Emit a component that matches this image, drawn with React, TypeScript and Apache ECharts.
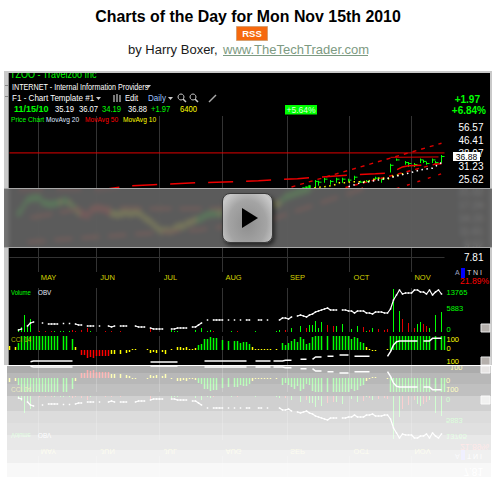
import React, { useEffect, useRef } from "react";
import * as echarts from "echarts";

const _ = null;
const FONT = "Liberation Sans";

const monthNames = ["MAY", "JUN", "JUL", "AUG", "SEP", "OCT", "NOV"];
const monthStarts = [9.5, 29, 50, 71, 92.67, 113.33, 134];
const monthLabelDays = [13, 32.67, 53.67, 74.67, 96, 117.33, 137.67];
const priceTicks = [56.57, 46.41, 38.07, 31.23, 25.62, 21.02, 17.24, 14.15, 11.61, 9.52, 7.81];
const lastPrice = "36.88";

const volumeUp = [[3,3],[4,5],[5,17],[6,6],[7,13],[15,1],[17,1],[18,1],[20,1],[27,1],[54,2],[55,1],[56,1],[62,2],[64,4],[66,1],[67,2],[74,1],[82,1],[89,1],[90,2],[94,4],[97,6],[100,7],[101,7],[102,11],[103,4],[104,10],[109,6],[111,8],[114,3],[116,6],[119,1],[121,4],[128,43],[130,21],[136,8],[137,10],[140,4],[142,17],[144,20]];
const volumeDown = [[10,1],[12,1],[14,1],[21,2],[22,1],[24,2],[26,4],[32,1],[34,1],[37,1],[47,4],[68,1],[76,1],[92,2],[99,4],[106,7],[108,6],[118,5],[120,2],[123,3],[125,2],[126,3],[131,13],[133,9],[135,4],[138,8],[139,6]];
const obv = [_,_,_,2,3,_,6,9,10,_,_,9,_,8,8,8,8,_,8.5,_,8.5,_,8,7,7,_,6,6,6,_,6,_,_,6,5,6,_,6,6,6,_,_,6,5,5,5,_,4,3,3,3,3,_,_,3,3,4,4,4,4,_,5,5,7,9,_,12,_,12,12,12,12,_,12,_,12,_,12,_,12,12,_,_,12,12,_,12,_,_,_,12,14,14,13,15,_,16,17,16,15,17,18,20,21,22,23,24,22,22,22,_,22,22,21,21,19,21,21,21,19,19,18,20,20,20,19,19,23,32,37,42,38,39,39,39,42,42,40,40,38,42,37,40,42,38,_];
const osc = [36,_,27,63,126,126,126,126,126,126,126,126,126,126,126,126,126,_,126,126,_,99,27,_,-45,-45,-72,-63,-72,-54,-54,-54,-54,-54,-36,-36,_,-36,_,-27,-18,9,9,_,_,_,9,-27,-18,-27,_,-18,-36,_,9,_,27,27,18,27,9,9,18,45,54,99,99,117,108,108,_,90,_,81,_,81,81,63,72,72,54,27,9,9,9,9,9,9,_,9,_,63,45,63,81,99,72,117,99,54,63,117,126,126,126,_,126,_,126,126,126,126,126,126,99,117,108,72,63,27,9,-9,-9,_,_,_,9,126,126,126,126,126,126,126,126,126,126,126,126,126,126,_,126,_,126,126,_];
const accumulation = [[7,-105],[8,-99],[21,-99],[_,_],[47,-108],[56,-108],[_,_],[65,-99],[79,-99],[_,_],[82,-99],[87,-99],[_,_],[88,-99],[91,-99],[92,-93],[94,-93],[_,_],[97,-84],[99,-84],[_,_],[101,-84],[102,-63],[104,-63],[_,_],[106,-57],[108,-57],[_,_],[110,-45],[113,-45],[_,_],[115,-57],[120,-57],[_,_],[126,-57],[127,-15],[128,45],[129,75],[130,81],[136,81],[_,_],[138,81],[140,81],[141,105],[144,105]];

const pricePast = [15.3,16.2,17.5,18.8,19.1,19.4,19.4,19.4,18.2,17.9,17.7,17.5,17.9,17.9,18.2,18.5,18.5,17.9,17.2,16.4,15.6,15.0,15.3,14.7,15.6,16.4,16.6,16.6,16.4,16.2,15.6,15.3,15.2,15.0,15.2,15.3,15.6,15.2,15.3,15.6,15.3,15.0,14.3,13.9,13.5,12.9,12.4,11.9,11.7,11.9,11.7,11.7,12.2,12.5,12.7,12.5,13.1,13.3,13.5,13.9,13.9,14.3,14.7,15.0,15.2,15.2,15.3,15.3,15.3,15.6,15.9,15.9,16.2,16.2,16.4,16.4,16.6,16.6,17.0,17.0,17.2,17.2,17.5,17.5,17.7,17.7,17.5,17.9,18.8,19.7,20.0,20.3,20.65,21.0,21.3,21.6,21.9,22.3];
const priceRecent = [[102,22.7,25.5],[103,23.3,25.2],[105,24.4,26.4],[107,23.7,25.5],[109,24.4,26.4],[111,24.4,26.4],[113,24.8,26.0],[115,25.5,27.2],[117,24.4,25.2],[119,24.4,25.5],[122,25.5,26.8],[124,24.4,26.4],[127,28.6,32.6],[129,34.2,35.4],[132,32.1,34.0],[133,31.1,33.5],[135,31.1,33.0],[137,33.0,35.4],[138,33.0,34.6],[139,32.1,33.5],[141,33.0,35.4],[142,32.6,34.0],[144,33.0,37.3]];

const ma10 = [[92,20.0],[96,20.6],[99,21.6],[102,22.7],[105,23],[108,23.5],[110,24.4],[112,24.4],[114,24.8],[116,24.8],[118,24.8],[120,25.2],[122,26],[124,26.4],[126,25.8],[128,27.2],[130,27.6],[132,28.4]];
const ma20 = [[113,23],[117,24.4],[120,24.8],[123,25.5],[127,26.4],[134,28.6],[137,29.7],[139,30.1],[141,30.5],[144,33.2]];
const ma50 = [[3,21.6],[17,21.9],[30,21.9],[40,23.3],[48,23.7],[62,24.4],[75,24.8],[83,25.2],[96,26],[110,27.2],[122,28],[127,28.4],[131,31.1],[133,31.6],[138,32],[144,32.6]];
const midAverage = [[7,14.3],[25,16.6],[41,16.6],[49,16.4],[70,16.4],[80,17.5]];
const lowAverage = [[6,9.9],[21,10.4],[30,10.7],[39,11.06],[50,11.4],[63,11.9],[70,12.4],[89,14.3],[97,16.2],[119,22.7]];
const resistanceLevel = [[0,38.5],[145,38.5]];
const recentLevel = [[127,36.0],[143,36.2]];
const floorLevel = [[0,7.81],[145,7.81]];
const channelUpper = [[94,22.9],[144,44.6]];
const channelMiddle = [[112,22.7],[144,33.2]];
const channelLower = [[129,22.3],[144,28]];

const volumeLabels = ["13765", "5883", "0"];
const volumeLabelAt = [40, 24, 3];
const oscLabels = ["100", "0", "100"];
const oscLabelAt = [99, 18, -99];

const GREEN = "#00ff00", RED = "#ff0000", YELLOW = "#ffff00", MONTH = "#d4d400";
const MIRROR = 728;
const oscColor = (v: number) => (v >= 45 ? GREEN : v <= -45 ? RED : YELLOW);

const text = (s: string, x: number, y: number, color: string, size = 9, o: any = {}) => ({
  type: "text", x, y, z: o.z ?? 20, scaleX: o.sx ?? 1, scaleY: o.flip ? -1 : 1,
  style: { text: s, x: 0, y: 0, fill: color, fontFamily: FONT, fontSize: size, fontWeight: o.w ?? "normal",
    align: o.a ?? "left", verticalAlign: "middle" },
});
const rect = (x: number, y: number, w: number, h: number, fill: any, z = -5, extra: any = {}) => ({
  type: "rect", z, shape: { x, y, width: w, height: h, ...extra.shape }, style: { fill, ...extra.style },
});
const seg = (x1: number, y1: number, x2: number, y2: number, stroke: string, w = 1, z = 20) => ({
  type: "line", z, shape: { x1, y1, x2, y2 }, style: { stroke, lineWidth: w },
});

function bothSides(s: string, x: number, y: number, color: string, size: number, o: any = {}) {
  return [text(s, x, y, color, size, o), text(s, x, MIRROR - y, color, size, { ...o, flip: true })];
}

const bandTops = [366, 373, 384, 396, 411, 423, 435, 450, 463];
const bandEnds = [373, 384, 396, 411, 423, 435, 450, 463, 477];
const bandGrays = [172, 184, 192, 208, 220, 224, 232, 240, 248];

function buildGraphics() {
  const g: any[] = [
    rect(4, 71, 488, 294, "#c9c9c9", -12),
    rect(8, 73, 1, 292, "#8a8a8a", -11),
    rect(9, 73, 481, 292, "#000", -10),
    rect(7, 366, 484, 111, "#000", -10),
    text("TZOO - Travelzoo Inc", 10, 74.5, GREEN, 11, { z: 15, sx: 0.82 }),
    rect(0, 0, 501, 71, "#fff", 16),
    rect(4, 71, 488, 2, "#c9c9c9", 17),
    text("Charts of the Day for Mon Nov 15th 2010", 248, 16, "#000", 15.9, { w: "bold", a: "center" }),
    rect(236.5, 26.5, 31, 14, "#f6690e", 18, { style: { stroke: "#d9a070", lineWidth: 1 } }),
    text("RSS", 252, 33.5, "#fff", 9.5, { w: "bold", a: "center" }),
    text("by Harry Boxer,", 128, 49, "#1a1a1a", 13),
    text("www.TheTechTrader.com", 223, 49, "#7d9a82", 13),
    seg(223, 55.5, 368, 55.5, "#7d9a82"),
    seg(5, 85.5, 9, 85.5, "#888"),
    seg(5, 96.5, 9, 96.5, "#888"),
    text("INTERNET - Internal Information Providers", 12, 87, "#fff", 9, { sx: 0.8 }),
    { type: "polygon", z: 20, shape: { points: [[146, 85], [151, 85], [148.5, 88]] }, style: { fill: "#ccc" } },
    text("F1 - Chart Template #1", 12, 98, "#fff", 9.5, { sx: 0.85 }),
    { type: "polygon", z: 20, shape: { points: [[96, 97], [101, 97], [98.5, 100]] }, style: { fill: "#ccc" } },
    rect(113, 95, 2, 7, "#777", 20), rect(116, 94, 2, 8, "#777", 20), rect(119, 95, 2, 7, "#777", 20),
    text("Edit", 125, 98, "#fff", 9.5, { sx: 0.8 }),
    text("Daily", 148, 98, "#9ec4ff", 9.5, { sx: 0.85 }),
    { type: "polygon", z: 20, shape: { points: [[168, 97], [173, 97], [170.5, 100]] }, style: { fill: "#ccc" } },
    { type: "circle", z: 20, shape: { cx: 181, cy: 97, r: 3 }, style: { fill: "none", stroke: "#ccc", lineWidth: 1 } },
    seg(183, 99, 186, 102, "#ccc", 1.5),
    { type: "circle", z: 20, shape: { cx: 193, cy: 97, r: 3 }, style: { fill: "none", stroke: "#ccc", lineWidth: 1 } },
    seg(195, 99, 198, 102, "#ccc", 1.5),
    seg(209, 102, 216, 95, "#aaa", 1.5),
    text("11/15/10", 14, 109, GREEN, 9, { w: "bold" }),
    text("35.19", 55, 109, "#fff", 8.5, { sx: 0.9 }),
    text("36.07", 79, 109, "#fff", 8.5, { sx: 0.9 }),
    text("34.19", 102, 109, GREEN, 8.5, { sx: 0.9 }),
    text("36.88", 128, 109, "#fff", 8.5, { sx: 0.9 }),
    text("+1.97", 151, 109, GREEN, 8.5, { sx: 0.9 }),
    text("6400", 180, 109, YELLOW, 8.5, { sx: 0.9 }),
    rect(285, 105, 32, 9.5, GREEN, 18),
    text("+5.64%", 301, 110, "#ddffdd", 8.5, { a: "center" }),
    text("+1.97", 480, 99, GREEN, 10, { a: "right", w: "bold" }),
    text("+6.84%", 486, 110, GREEN, 10, { a: "right", w: "bold" }),
    text("Price Chart", 11, 119, GREEN, 7, { sx: 0.95 }),
    text("MovAvg 20", 46, 119, "#dfe8ff", 7, { sx: 0.95 }),
    text("MovAvg 50", 85, 119, RED, 7, { sx: 0.95 }),
    text("MovAvg 10", 123, 119, YELLOW, 7, { sx: 0.95 }),
    rect(453, 152, 27, 9, "#fff", 18),
    text(lastPrice, 466.5, 156.5, "#000", 8.5, { a: "center" }),
    rect(481, 324, 9, 8, "#b5b0ac", 18, { style: { stroke: "#e8e8e8", lineWidth: 1 } }),
    rect(481, 357, 9, 8, "#b5b0ac", 18, { style: { stroke: "#e8e8e8", lineWidth: 1 } }),
    rect(481, 396, 9, 8, "#b5b0ac", 18, { style: { stroke: "#e8e8e8", lineWidth: 1 } }),
    rect(481, 366, 9, 7, "#b5b0ac", 18, { style: { stroke: "#e8e8e8", lineWidth: 1 } }),
    rect(490, 73, 2, 292, "#c9c9c9", 17),
    rect(461, 268, 4, 10, "#0000ff", 18),
    rect(461, 450, 4, 10, "#0000ff", 18),
    ...bothSides("A", 455, 272, "#9aa0c0", 7),
    ...bothSides("T N I", 467, 272, "#dddddd", 7),
    ...bothSides("21.89%", 489, 281, RED, 9, { a: "right", sx: 0.95 }),
    ...bothSides("Volume", 11, 292, GREEN, 7, { sx: 0.85 }),
    ...bothSides("OBV", 38, 292, "#e8eeff", 7, { sx: 0.9 }),
    ...bothSides("CCI 14", 11, 339, "#b0b000", 6.5),
    text(volumeLabels[0], 446, MIRROR - 292, GREEN, 7.5, { flip: true }),
    text(volumeLabels[1], 446, MIRROR - 308, GREEN, 7.5, { flip: true }),
    text(oscLabels[1], 446, MIRROR - 348, YELLOW, 7.5, { flip: true }),
    text(oscLabels[2], 450, MIRROR - 361, YELLOW, 7.5, { flip: true }),
    text(oscLabels[0], 446, MIRROR - 339, YELLOW, 7.5, { flip: true }),
    text("0", 446, MIRROR - 329, GREEN, 7.5, { flip: true }),
    text("7.81", 483, MIRROR - 257, "#fff", 10, { a: "right", flip: true }),
    seg(7, 365.5, 491, 365.5, "#ffffff", 1, 90),
  ];
  monthNames.forEach((m, i) => {
    g.push(text(m, 9.5 + monthLabelDays[i] * 3, MIRROR - 277, MONTH, 7.5, { a: "center", flip: true }));
  });
  bandTops.forEach((t, i) => {
    g.push(rect(0, t, 501, bandEnds[i] - t, `rgba(255,255,255,${(bandGrays[i] / 255).toFixed(3)})`, 80));
  });
  return g;
}

const xAxisOf = (gridIndex: number, labels = false) => ({
  type: "value", gridIndex, min: 0, max: 145,
  axisLine: { show: false },
  axisTick: { show: false, customValues: monthStarts },
  splitLine: { show: true, lineStyle: { color: "#333333", width: 1 } },
  axisLabel: labels
    ? { show: true, customValues: monthLabelDays, color: MONTH, fontSize: 7.5, fontFamily: FONT, margin: 1,
        formatter: (v: number) => monthNames[monthLabelDays.indexOf(v)] ?? "" }
    : { show: false },
});

const bars = (xi: number, data: any[], width: number) => ({
  type: "bar", xAxisIndex: xi, yAxisIndex: xi, barWidth: width, data, z: 3,
});
const whiteLine = (xi: number, data: any[], sym: boolean) => ({
  type: "line", xAxisIndex: xi, yAxisIndex: xi, data, z: 5, connectNulls: false,
  showSymbol: sym, showAllSymbol: sym, symbol: "rect", symbolSize: 1.5,
  itemStyle: { color: "#fff" }, lineStyle: { color: "#fff", width: sym ? 1.2 : 1.5 },
});
const priceLine = (data: any[], color: string, width: number, type: any) => ({
  type: "line", xAxisIndex: 0, yAxisIndex: 0, data, showSymbol: false, symbol: "none", z: 4,
  lineStyle: { color, width, type }, silent: true,
});

function buildOption() {
  const volData = [
    ...volumeUp.map((d) => ({ value: d, itemStyle: { color: GREEN } })),
    ...volumeDown.map((d) => ({ value: d, itemStyle: { color: "#e00000" } })),
  ];
  const oscData = osc.map((v, i) => ({ value: [i, v], itemStyle: { color: v == null ? GREEN : oscColor(v) } }));
  const obvData = obv.map((v, i) => [i, v]);

  const past = pricePast.map((p, i) => [3 + i, p * 0.945, p * 1.055, oscColor(osc[3 + i] ?? 0), 2.4]);
  const recent = priceRecent.map((d) => [d[0], d[1], d[2], GREEN, 1]);

  return {
    animation: false,
    backgroundColor: "#fff",
    textStyle: { fontFamily: FONT },
    graphic: { elements: buildGraphics() },
    grid: [
      { left: 9.5, width: 435, top: 116, height: 156 },
      { left: 9.5, width: 435, top: 288, height: 44 },
      { left: 9.5, width: 435, top: 336, height: 28 },
      { left: 9.5, width: 435, top: 396, height: 44 },
      { left: 9.5, width: 435, top: 364, height: 28 },
      { left: 9.5, width: 435, top: 456, height: 21 },
    ],
    xAxis: [xAxisOf(0, true), xAxisOf(1), xAxisOf(2), xAxisOf(3), xAxisOf(4), xAxisOf(5)],
    yAxis: [
      { type: "log", gridIndex: 0, position: "right", min: 6.26, max: 67.6, logBase: 10,
        axisLine: { show: false }, splitLine: { show: false },
        axisTick: { show: false, customValues: priceTicks },
        axisLabel: { customValues: priceTicks, color: "#fff", fontSize: 10, fontFamily: FONT, margin: 39, align: "right",
          formatter: (v: number) => v.toFixed(2) } },
      { type: "value", gridIndex: 1, position: "right", min: 0, max: 44,
        axisLine: { show: false }, splitLine: { show: false }, axisTick: { show: false },
        axisLabel: { customValues: volumeLabelAt, color: GREEN, fontSize: 7.5, fontFamily: FONT, margin: 2, align: "left",
          formatter: (v: number) => volumeLabels[volumeLabelAt.indexOf(v)] ?? "" } },
      { type: "value", gridIndex: 2, position: "right", min: -126, max: 126,
        axisLine: { show: false }, splitLine: { show: false }, axisTick: { show: false },
        axisLabel: { customValues: oscLabelAt, color: YELLOW, fontSize: 7.5, fontFamily: FONT, margin: 2, align: "left",
          formatter: (v: number) => oscLabels[oscLabelAt.indexOf(v)] ?? "" } },
      { type: "value", gridIndex: 3, inverse: true, min: 0, max: 44, show: false },
      { type: "value", gridIndex: 4, inverse: true, min: -126, max: 126, show: false },
      { type: "value", gridIndex: 5, min: 0, max: 1, show: false },
    ],
    series: [
      {
        type: "custom", xAxisIndex: 0, yAxisIndex: 0, z: 3, silent: true, clip: true,
        data: [...past, ...recent],
        encode: { x: 0, y: [1, 2] },
        renderItem: (params: any, api: any) => {
          const d = api.value(0);
          const lo = api.coord([d, api.value(1)]);
          const hi = api.coord([d, api.value(2)]);
          const item = [...past, ...recent][params.dataIndex];
          const w = item[4] as number;
          const children: any[] = [{
            type: "rect", shape: { x: lo[0] - w / 2, y: hi[1], width: w, height: lo[1] - hi[1] },
            style: { fill: item[3] },
          }];
          if (w === 1) {
            children.push({ type: "rect", shape: { x: lo[0], y: hi[1] + 1, width: 3, height: 1 }, style: { fill: item[3] } });
          }
          return { type: "group", children };
        },
      },
      priceLine(floorLevel, "#333333", 1, "solid"),
      priceLine(resistanceLevel, "#e00000", 1, "solid"),
      priceLine(recentLevel, "#e00000", 1, "solid"),
      priceLine(channelUpper, "#e00000", 1.4, [4, 5]),
      priceLine(channelMiddle, "#e00000", 1.4, [4, 5]),
      priceLine(channelLower, "#e00000", 1.4, [3, 8]),
      priceLine(ma50, "#ee0000", 1.5, [25, 13]),
      priceLine(midAverage, "#d02000", 3, [22, 8]),
      priceLine(lowAverage, "#d02000", 3, [18, 9]),
      priceLine(ma10, YELLOW, 1.5, [1.5, 3.5]),
      priceLine(ma20, "#ffffff", 1.5, [1.5, 3.5]),
      bars(1, volData, 1),
      whiteLine(1, obvData, true),
      bars(2, oscData, 1.5),
      whiteLine(2, accumulation, false),
      bars(3, volData, 1),
      whiteLine(3, obvData, true),
      bars(4, oscData, 1.5),
      whiteLine(4, accumulation, false),
    ],
  };
}

export default function App() {
  const ref = useRef<HTMLDivElement>(null);
  useEffect(() => {
    const chart = echarts.init(ref.current!, null, { renderer: "svg" });
    chart.setOption(buildOption() as any);
    return () => chart.dispose();
  }, []);
  return (
    <div style={{ position: "fixed", left: 0, top: 0, width: 501, height: 477, overflow: "hidden", background: "#fff" }}>
      <div ref={ref} style={{ width: 501, height: 477 }} />
      <div style={{ position: "absolute", left: 4, top: 188, width: 488, height: 60, boxSizing: "border-box",
        background: "rgba(104,104,104,0.87)", backdropFilter: "blur(2.5px)",
        borderTop: "1px solid #a8a8a8", borderBottom: "1px solid #a8a8a8" }} />
      <div style={{ position: "absolute", left: 222, top: 193, width: 51, height: 50, boxSizing: "border-box", borderRadius: 8,
        border: "1px solid #3a3a3a", boxShadow: "2px 3px 4px rgba(0,0,0,0.55)",
        background: "radial-gradient(ellipse at 50% 62%, #8e8e8e 0%, #a4a4a4 55%, #c8c8c8 85%, #b0b0b0 100%)" }} />
      <div style={{ position: "absolute", left: 242, top: 208, width: 16, height: 20, background: "#000",
        clipPath: "polygon(0 0, 100% 50%, 0 100%)" }} />
    </div>
  );
}
